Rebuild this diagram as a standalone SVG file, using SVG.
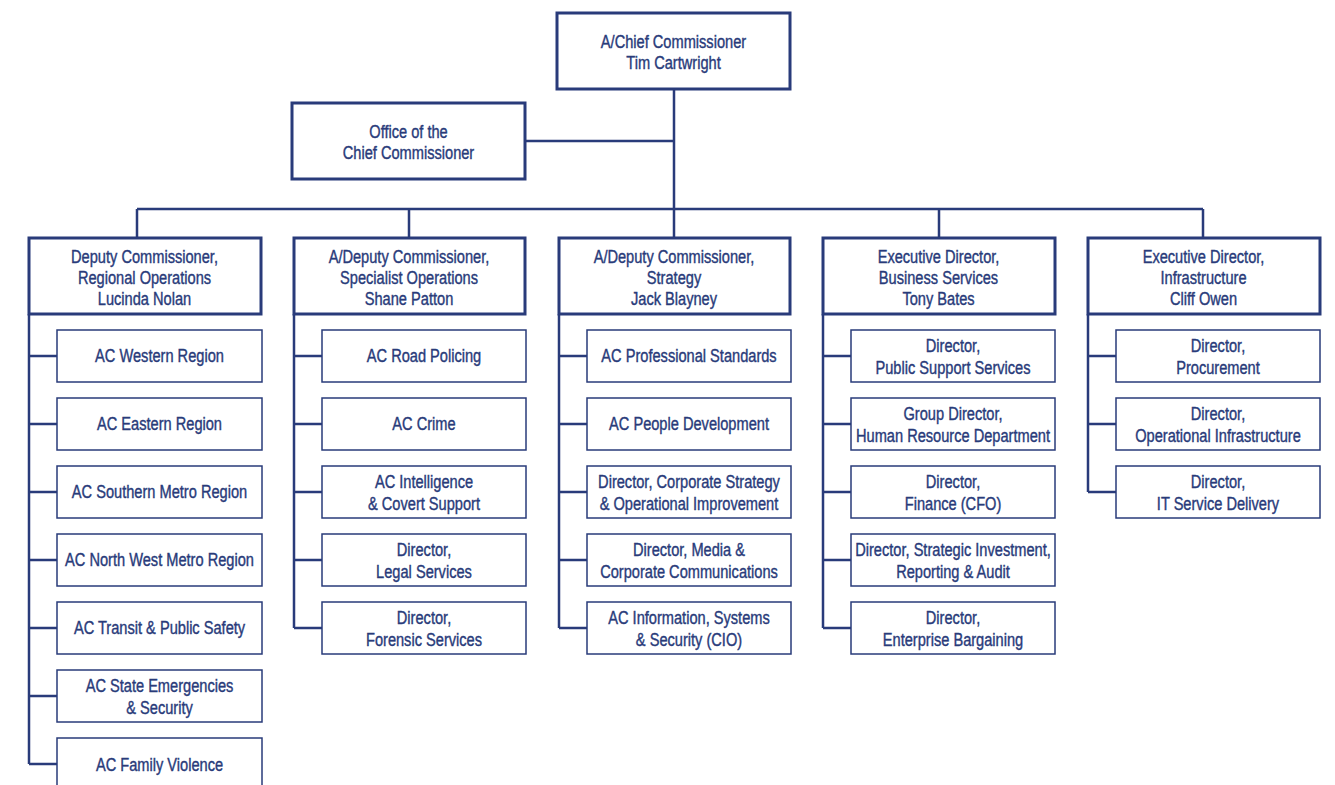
<svg xmlns="http://www.w3.org/2000/svg" width="1335" height="785" viewBox="0 0 1335 785">
<style>
.bg{fill:#fff}
.main{fill:#fff;stroke:#293b7a;stroke-width:3}
.sub{fill:#fff;stroke:#293b7a;stroke-width:1.5}
.con{fill:none;stroke:#293b7a;stroke-width:2.5}
text{font-family:"Liberation Sans",Arial,sans-serif;font-size:18.5px;fill:#293b7a;stroke:#293b7a;stroke-width:0.4;text-anchor:middle}
</style>
<rect class="bg" x="0" y="0" width="1335" height="785"/>
<g id="connectors">
<path class="con" d="M674 89V209M525 141H674M137 209H1203M137 209V238M409 209V238M674 209V238M939 209V238M1203 209V238"/>
<path class="con" d="M29 314V764M29 356H57M29 424H57M29 492H57M29 560H57M29 628H57M29 696H57M29 764H57"/>
<path class="con" d="M294 314V628M294 356H322M294 424H322M294 492H322M294 560H322M294 628H322"/>
<path class="con" d="M559 314V628M559 356H587M559 424H587M559 492H587M559 560H587M559 628H587"/>
<path class="con" d="M823 314V628M823 356H851M823 424H851M823 492H851M823 560H851M823 628H851"/>
<path class="con" d="M1088 314V492M1088 356H1116M1088 424H1116M1088 492H1116"/>
</g>
<g id="chief"><rect class="main" x="557" y="13" width="233" height="76"/><g transform="translate(673.5 0) scale(.79 1)"><text y="48">A/Chief Commissioner</text><text y="69">Tim Cartwright</text></g></g>
<g id="office"><rect class="main" x="292" y="103" width="233" height="76"/><g transform="translate(408.5 0) scale(.79 1)"><text y="138">Office of the</text><text y="159">Chief Commissioner</text></g></g>

<g id="dc-regional"><rect class="main" x="29" y="238" width="232" height="76"/><g transform="translate(144.5 0) scale(.79 1)"><text y="263">Deputy Commissioner,</text><text y="284">Regional Operations</text><text y="305">Lucinda Nolan</text></g></g>
<g id="dc-specialist"><rect class="main" x="294" y="238" width="231" height="76"/><g transform="translate(409 0) scale(.79 1)"><text y="263">A/Deputy Commissioner,</text><text y="284">Specialist Operations</text><text y="305">Shane Patton</text></g></g>
<g id="dc-strategy"><rect class="main" x="559" y="238" width="231" height="76"/><g transform="translate(674 0) scale(.79 1)"><text y="263">A/Deputy Commissioner,</text><text y="284">Strategy</text><text y="305">Jack Blayney</text></g></g>
<g id="ed-business"><rect class="main" x="823" y="238" width="232" height="76"/><g transform="translate(938.5 0) scale(.79 1)"><text y="263">Executive Director,</text><text y="284">Business Services</text><text y="305">Tony Bates</text></g></g>
<g id="ed-infra"><rect class="main" x="1088" y="238" width="232" height="76"/><g transform="translate(1203.5 0) scale(.79 1)"><text y="263">Executive Director,</text><text y="284">Infrastructure</text><text y="305">Cliff Owen</text></g></g>

<g id="c1-1"><rect class="sub" x="57" y="330" width="205" height="52"/><g transform="translate(159.5 0) scale(.79 1)"><text y="362">AC Western Region</text></g></g>
<g id="c1-2"><rect class="sub" x="57" y="398" width="205" height="52"/><g transform="translate(159.5 0) scale(.79 1)"><text y="430">AC Eastern Region</text></g></g>
<g id="c1-3"><rect class="sub" x="57" y="466" width="205" height="52"/><g transform="translate(159.5 0) scale(.79 1)"><text y="498">AC Southern Metro Region</text></g></g>
<g id="c1-4"><rect class="sub" x="57" y="534" width="205" height="52"/><g transform="translate(159.5 0) scale(.79 1)"><text y="566">AC North West Metro Region</text></g></g>
<g id="c1-5"><rect class="sub" x="57" y="602" width="205" height="52"/><g transform="translate(159.5 0) scale(.79 1)"><text y="634">AC Transit &amp; Public Safety</text></g></g>
<g id="c1-6"><rect class="sub" x="57" y="670" width="205" height="52"/><g transform="translate(159.5 0) scale(.79 1)"><text y="692">AC State Emergencies</text><text y="714">&amp; Security</text></g></g>
<g id="c1-7"><rect class="sub" x="57" y="738" width="205" height="52"/><g transform="translate(159.5 0) scale(.79 1)"><text y="771">AC Family Violence</text></g></g>

<g id="c2-1"><rect class="sub" x="322" y="330" width="204" height="52"/><g transform="translate(424 0) scale(.79 1)"><text y="362">AC Road Policing</text></g></g>
<g id="c2-2"><rect class="sub" x="322" y="398" width="204" height="52"/><g transform="translate(424 0) scale(.79 1)"><text y="430">AC Crime</text></g></g>
<g id="c2-3"><rect class="sub" x="322" y="466" width="204" height="52"/><g transform="translate(424 0) scale(.79 1)"><text y="488">AC Intelligence</text><text y="510">&amp; Covert Support</text></g></g>
<g id="c2-4"><rect class="sub" x="322" y="534" width="204" height="52"/><g transform="translate(424 0) scale(.79 1)"><text y="556">Director,</text><text y="578">Legal Services</text></g></g>
<g id="c2-5"><rect class="sub" x="322" y="602" width="204" height="52"/><g transform="translate(424 0) scale(.79 1)"><text y="624">Director,</text><text y="646">Forensic Services</text></g></g>

<g id="c3-1"><rect class="sub" x="587" y="330" width="204" height="52"/><g transform="translate(689 0) scale(.79 1)"><text y="362">AC Professional Standards</text></g></g>
<g id="c3-2"><rect class="sub" x="587" y="398" width="204" height="52"/><g transform="translate(689 0) scale(.79 1)"><text y="430">AC People Development</text></g></g>
<g id="c3-3"><rect class="sub" x="587" y="466" width="204" height="52"/><g transform="translate(689 0) scale(.79 1)"><text y="488">Director, Corporate Strategy</text><text y="510">&amp; Operational Improvement</text></g></g>
<g id="c3-4"><rect class="sub" x="587" y="534" width="204" height="52"/><g transform="translate(689 0) scale(.79 1)"><text y="556">Director, Media &amp;</text><text y="578">Corporate Communications</text></g></g>
<g id="c3-5"><rect class="sub" x="587" y="602" width="204" height="52"/><g transform="translate(689 0) scale(.79 1)"><text y="624">AC Information, Systems</text><text y="646">&amp; Security (CIO)</text></g></g>

<g id="c4-1"><rect class="sub" x="851" y="330" width="204" height="52"/><g transform="translate(953 0) scale(.79 1)"><text y="352">Director,</text><text y="374">Public Support Services</text></g></g>
<g id="c4-2"><rect class="sub" x="851" y="398" width="204" height="52"/><g transform="translate(953 0) scale(.79 1)"><text y="420">Group Director,</text><text y="442">Human Resource Department</text></g></g>
<g id="c4-3"><rect class="sub" x="851" y="466" width="204" height="52"/><g transform="translate(953 0) scale(.79 1)"><text y="488">Director,</text><text y="510">Finance (CFO)</text></g></g>
<g id="c4-4"><rect class="sub" x="851" y="534" width="204" height="52"/><g transform="translate(953 0) scale(.79 1)"><text y="556">Director, Strategic Investment,</text><text y="578">Reporting &amp; Audit</text></g></g>
<g id="c4-5"><rect class="sub" x="851" y="602" width="204" height="52"/><g transform="translate(953 0) scale(.79 1)"><text y="624">Director,</text><text y="646">Enterprise Bargaining</text></g></g>

<g id="c5-1"><rect class="sub" x="1116" y="330" width="204" height="52"/><g transform="translate(1218 0) scale(.79 1)"><text y="352">Director,</text><text y="374">Procurement</text></g></g>
<g id="c5-2"><rect class="sub" x="1116" y="398" width="204" height="52"/><g transform="translate(1218 0) scale(.79 1)"><text y="420">Director,</text><text y="442">Operational Infrastructure</text></g></g>
<g id="c5-3"><rect class="sub" x="1116" y="466" width="204" height="52"/><g transform="translate(1218 0) scale(.79 1)"><text y="488">Director,</text><text y="510">IT Service Delivery</text></g></g>
</svg>
